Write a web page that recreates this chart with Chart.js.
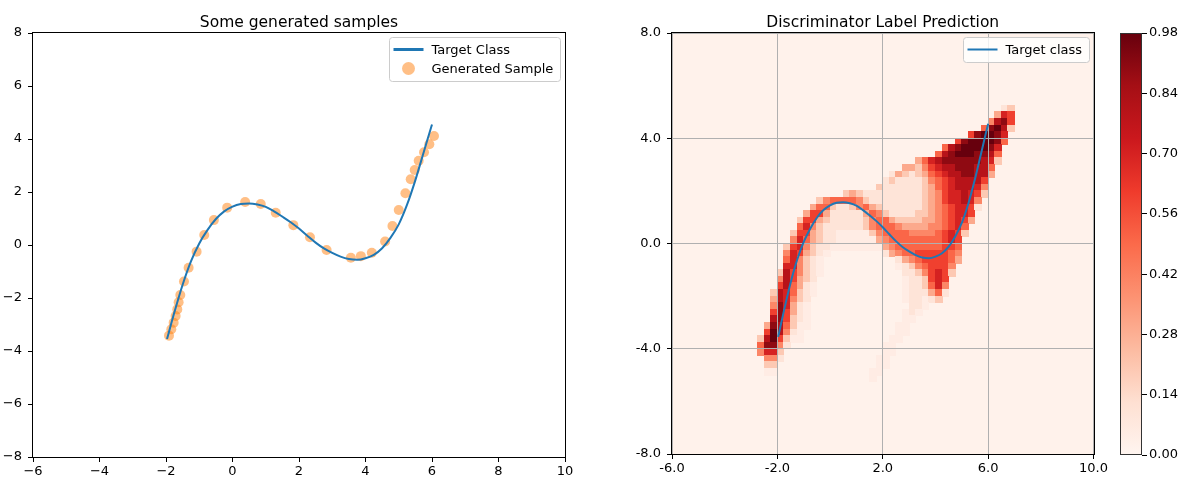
<!DOCTYPE html>
<html>
<head>
<meta charset="utf-8">
<script src="https://cdn.jsdelivr.net/npm/chart.js@4/dist/chart.umd.min.js"></script>
<style>
  body { margin: 0; background: #fff; width: 1183px; height: 479px; overflow: hidden; position: relative; }
  canvas { position: absolute; top: 0; }
</style>
</head>
<body>
<canvas id="samples" width="590" height="479" style="left:0px"></canvas>
<canvas id="disc" width="510" height="479" style="left:600px"></canvas>
<canvas id="cbar" width="83" height="479" style="left:1100px"></canvas>
<script>
// target class curve
const targetX = [-1.97, -1.75, -1.5, -1.25, -1, -0.75, -0.5, -0.25, 0, 0.25, 0.5, 0.75, 1, 1.25, 1.5, 1.75,
  2, 2.25, 2.5, 2.75, 3, 3.25, 3.5, 3.75, 4, 4.25, 4.5, 4.75, 5, 5.25, 5.5, 5.75, 6];
const targetY = [-3.55, -2.55, -1.5, -0.62, 0.06, 0.57, 0.98, 1.27, 1.45, 1.55, 1.57, 1.53, 1.44, 1.27, 1.07, 0.86,
  0.62, 0.35, 0.09, -0.13, -0.3, -0.44, -0.53, -0.56, -0.5, -0.37, -0.12, 0.27, 0.78, 1.52, 2.45, 3.5, 4.55];

// generated samples
const sampleX = [-1.91, -1.84, -1.77, -1.71, -1.66, -1.62, -1.57, -1.46, -1.32, -1.08, -0.85, -0.56, -0.16, 0.38,
  0.85, 1.30, 1.83, 2.33, 2.83, 3.56, 3.86, 4.19, 4.59, 4.81, 5.00, 5.20, 5.36, 5.48, 5.60, 5.76, 5.92, 6.06];
const sampleY = [-3.42, -3.18, -2.93, -2.68, -2.43, -2.16, -1.89, -1.38, -0.86, -0.25, 0.38, 0.94, 1.41, 1.62,
  1.55, 1.22, 0.75, 0.29, -0.19, -0.48, -0.42, -0.29, 0.13, 0.72, 1.32, 1.95, 2.48, 2.83, 3.18, 3.50, 3.80, 4.11];

// ticks
const samplesXTicks = [-6, -4, -2, 0, 2, 4, 6, 8, 10];
const samplesYTicks = [-8, -6, -4, -2, 0, 2, 4, 6, 8];
const discXTicks = [-6, -2, 2, 6, 10];
const discYTicks = [-8, -4, 0, 4, 8];
const cbarTicks = [0, 0.14, 0.28, 0.42, 0.56, 0.70, 0.84, 0.98];

// discriminator prediction, 0.25 x 0.25 cells: [row from top, first column, levels]
// '.' background, '0' faint, '1'..'9' tenths, '#' max
const heatRuns = [
  [1, 38, '12'],
  [2, 37, '376'],
  [3, 36, '4896'],
  [4, 35, '59#82'],
  [5, 33, '69##97'],
  [6, 31, '69####95'],
  [7, 29, '589####97'],
  [8, 28, '589###9985'],
  [9, 25, '3578999999872'],
  [10, 23, '33246788999885'],
  [11, 21, '1321235678899883'],
  [12, 20, '1211112456788886'],
  [13, 19, '21111112356788874'],
  [14, 14, '2321111111112346778762'],
  [15, 10, '2455554211111111234677874'],
  [16, 9, '35521124532111111234567761'],
  [17, 8, '36631111135421111223456776'],
  [18, 7, '266321111124553222233456763'],
  [19, 7, '57421111112455543333445675'],
  [20, 6, '266321100000245555444456762'],
  [21, 6, '47532110000003455555555676'],
  [22, 5, '267421100000000345555555665'],
  [23, 5, '4763210'], [23, 20, '134556666654'],
  [24, 5, '574210'], [24, 22, '1345666653'],
  [25, 5, '774210'], [25, 22, '012456664'],
  [26, 4, '2864210'], [26, 23, '11246762'],
  [27, 4, '486321'], [27, 23, '0112676'],
  [28, 4, '685310'], [28, 23, '0112574'],
  [29, 3, '2875210'], [29, 23, '0111351'],
  [30, 3, '387421'], [30, 23, '011012'],
  [31, 3, '497310'], [31, 24, '110'],
  [32, 3, '696310'], [32, 23, '010'],
  [33, 3, '896210'], [33, 23, '00'],
  [34, 2, '3985200'], [34, 22, '00'],
  [35, 2, '6#8410'], [35, 22, '00'],
  [36, 1, '28#6200'], [36, 21, '00'],
  [37, 1, '59941'], [37, 20, '00'],
  [38, 1, '4772'], [38, 20, '00'],
  [39, 2, '441'], [39, 19, '00'],
  [40, 2, '22'], [40, 19, '00'],
  [41, 2, '00'], [41, 18, '00'],
  [42, 18, '0']
];

const HEAT_X0 = -3, HEAT_Y0 = 5.5, CELL = 0.25;
const VMAX = 0.98, BG = 0.02;
const REDS = ['#fff5f0', '#fee0d2', '#fcbba1', '#fc9272', '#fb6a4a', '#ef3b2c', '#cb181d', '#a50f15', '#67000d'];
const FONT = '"DejaVu Sans", sans-serif';
const BLUE = '#1f77b4';

function levelValue(ch) {
  if (ch === '.') return BG;
  if (ch === '0') return 0.05;
  if (ch === '#') return 0.98;
  return Number(ch) / 10;
}

function reds(v) {
  const t = Math.min(1, Math.max(0, v / VMAX)) * (REDS.length - 1);
  const i = Math.min(REDS.length - 2, Math.floor(t));
  const f = t - i;
  const a = REDS[i], b = REDS[i + 1];
  const ch = k => Math.round(parseInt(a.substr(k, 2), 16) * (1 - f) + parseInt(b.substr(k, 2), 16) * f);
  return `rgb(${ch(1)},${ch(3)},${ch(5)})`;
}

const fixTicks = arr => ax => { ax.ticks = arr.map(v => ({ value: v })); };
const minusFmt = v => (v < 0 ? '\u2212' + Math.abs(v) : String(v));

function axisOpts(ticksArr, fmt, pad, extra) {
  return Object.assign({
    type: 'linear',
    afterBuildTicks: fixTicks(ticksArr),
    border: { display: false },
    grid: { drawOnChartArea: false, tickLength: 5, tickColor: '#000', tickWidth: 1 },
    ticks: { callback: fmt, color: '#000', font: { family: FONT, size: 13 }, padding: pad, maxRotation: 0, autoSkip: false }
  }, extra);
}

// black frame round the plot area
const boxPlugin = {
  id: 'frame',
  afterDatasetsDraw(chart) {
    const { ctx, chartArea: a } = chart;
    ctx.save();
    ctx.strokeStyle = '#000';
    ctx.lineWidth = 1;
    ctx.strokeRect(Math.round(a.left) - 0.5, Math.round(a.top) - 0.5, Math.round(a.width) + 1, Math.round(a.height) + 1);
    ctx.restore();
  }
};

// title centred over the plot area, not the canvas
function titlePlugin(text) {
  return {
    id: 'plotTitle',
    afterDraw(chart) {
      const { ctx, chartArea: a } = chart;
      ctx.save();
      ctx.font = '15.5px ' + FONT;
      ctx.fillStyle = '#000';
      ctx.textAlign = 'center';
      ctx.textBaseline = 'alphabetic';
      ctx.fillText(text, (a.left + a.right) / 2, 27);
      ctx.restore();
    }
  };
}

function legendPlugin(items) {
  return {
    id: 'boxLegend',
    afterDraw(chart) {
      const { ctx, chartArea: a } = chart;
      ctx.save();
      ctx.font = '13px ' + FONT;
      const textW = Math.max(...items.map(it => ctx.measureText(it.label).width));
      const w = Math.round(4 + 30 + 8 + textW + 7);
      const h = 6 + items.length * 19;
      const x0 = Math.round(a.right - 5 - w) + 0.5, y0 = Math.round(a.top + 4) + 0.5, r = 3;
      ctx.beginPath();
      ctx.moveTo(x0 + r, y0);
      ctx.arcTo(x0 + w, y0, x0 + w, y0 + h, r);
      ctx.arcTo(x0 + w, y0 + h, x0, y0 + h, r);
      ctx.arcTo(x0, y0 + h, x0, y0, r);
      ctx.arcTo(x0, y0, x0 + w, y0, r);
      ctx.closePath();
      ctx.fillStyle = 'rgba(255,255,255,0.8)';
      ctx.fill();
      ctx.strokeStyle = '#cccccc';
      ctx.lineWidth = 1;
      ctx.stroke();
      items.forEach((it, i) => {
        const cy = y0 + 12 + i * 19;
        if (it.kind === 'line') {
          ctx.beginPath();
          ctx.moveTo(x0 + 4, cy);
          ctx.lineTo(x0 + 34, cy);
          ctx.strokeStyle = it.color;
          ctx.lineWidth = it.width;
          ctx.stroke();
        } else {
          ctx.beginPath();
          ctx.arc(x0 + 19, cy, it.radius, 0, Math.PI * 2);
          ctx.fillStyle = it.color;
          ctx.fill();
        }
        ctx.fillStyle = '#000';
        ctx.textAlign = 'left';
        ctx.textBaseline = 'middle';
        ctx.fillText(it.label, x0 + 42, cy + 1);
      });
      ctx.restore();
    }
  };
}

// heatmap cells under the grid lines
const heatPlugin = {
  id: 'heat',
  beforeDraw(chart) {
    const { ctx, chartArea: a, scales: { x, y } } = chart;
    ctx.save();
    ctx.beginPath();
    ctx.rect(a.left, a.top, a.width, a.height);
    ctx.clip();
    ctx.fillStyle = reds(BG);
    ctx.fillRect(a.left, a.top, a.width, a.height);
    heatRuns.forEach(([row, col, levels]) => {
      [...levels].forEach((ch, k) => {
        const xv = HEAT_X0 + (col + k) * CELL;
        const yv = HEAT_Y0 - row * CELL;
        const px0 = Math.floor(x.getPixelForValue(xv)), px1 = Math.ceil(x.getPixelForValue(xv + CELL));
        const py0 = Math.floor(y.getPixelForValue(yv)), py1 = Math.ceil(y.getPixelForValue(yv - CELL));
        ctx.fillStyle = reds(levelValue(ch));
        ctx.fillRect(px0, py0, px1 - px0, py1 - py0);
      });
    });
    ctx.restore();
  }
};

const cbarPlugin = {
  id: 'cbarFill',
  beforeDatasetsDraw(chart) {
    const { ctx, chartArea: a, scales: { y } } = chart;
    const g = ctx.createLinearGradient(0, y.getPixelForValue(0), 0, y.getPixelForValue(VMAX));
    REDS.forEach((c, i) => g.addColorStop(i / (REDS.length - 1), c));
    ctx.save();
    ctx.fillStyle = g;
    ctx.fillRect(a.left, a.top, a.width, a.height);
    ctx.strokeStyle = '#333';
    ctx.lineWidth = 1;
    ctx.strokeRect(Math.round(a.left) + 0.5, Math.round(a.top) + 0.5, Math.round(a.width) - 1, Math.round(a.height) - 1);
    ctx.restore();
  }
};

const targetPoints = targetX.map((x, i) => ({ x, y: targetY[i] }));

// left: samples vs target
new Chart(document.getElementById('samples'), {
  type: 'scatter',
  data: {
    datasets: [
      { type: 'line', label: 'Target Class', data: targetPoints, borderColor: BLUE, borderWidth: 2,
        pointRadius: 0, cubicInterpolationMode: 'monotone', order: 0 },
      { label: 'Generated Sample', data: sampleX.map((x, i) => ({ x, y: sampleY[i] })),
        backgroundColor: 'rgba(255,127,14,0.5)', borderWidth: 0, pointRadius: 5, pointHoverRadius: 5, order: 1 }
    ]
  },
  options: {
    responsive: false, animation: false, devicePixelRatio: 1,
    layout: { padding: { top: 33, right: 25 } },
    plugins: { legend: { display: false }, tooltip: { enabled: false } },
    scales: {
      x: axisOpts(samplesXTicks, minusFmt, 2, { min: -6, max: 10, afterFit: ax => { ax.height = 22; } }),
      y: axisOpts(samplesYTicks, minusFmt, 6, { min: -8, max: 8, afterFit: ax => { ax.width = 33; } })
    }
  },
  plugins: [boxPlugin, titlePlugin('Some generated samples'), legendPlugin([
    { kind: 'line', label: 'Target Class', color: BLUE, width: 3 },
    { kind: 'dot', label: 'Generated Sample', color: 'rgba(255,127,14,0.5)', radius: 6.5 }
  ])]
});

// right: discriminator heatmap
const gridOn = { drawOnChartArea: true, color: '#b0b0b0', lineWidth: 1, tickLength: 5, tickColor: '#000', tickWidth: 1 };
const fmt1 = v => v.toFixed(1);
new Chart(document.getElementById('disc'), {
  type: 'scatter',
  data: {
    datasets: [
      { type: 'line', label: 'Target class', data: targetPoints, borderColor: BLUE, borderWidth: 2,
        pointRadius: 0, cubicInterpolationMode: 'monotone' }
    ]
  },
  options: {
    responsive: false, animation: false, devicePixelRatio: 1,
    layout: { padding: { top: 33, right: 16 } },
    plugins: { legend: { display: false }, tooltip: { enabled: false } },
    scales: {
      x: axisOpts(discXTicks, fmt1, 2, { min: -6, max: 10, grid: gridOn, afterFit: ax => { ax.height = 25; } }),
      y: axisOpts(discYTicks, fmt1, 6, { min: -8, max: 8, grid: gridOn, afterFit: ax => { ax.width = 72; } })
    }
  },
  plugins: [heatPlugin, boxPlugin, titlePlugin('Discriminator Label Prediction'), legendPlugin([
    { kind: 'line', label: 'Target class', color: BLUE, width: 2 }
  ])]
});

// colorbar
new Chart(document.getElementById('cbar'), {
  type: 'scatter',
  data: { datasets: [] },
  options: {
    responsive: false, animation: false, devicePixelRatio: 1,
    layout: { padding: { left: 20, top: 33, bottom: 24 } },
    plugins: { legend: { display: false }, tooltip: { enabled: false } },
    scales: {
      x: { display: false, min: 0, max: 1 },
      y: axisOpts(cbarTicks, v => v.toFixed(2), 2, { position: 'right', min: 0, max: VMAX, afterFit: ax => { ax.width = 41; } })
    }
  },
  plugins: [cbarPlugin]
});
</script>
</body>
</html>
